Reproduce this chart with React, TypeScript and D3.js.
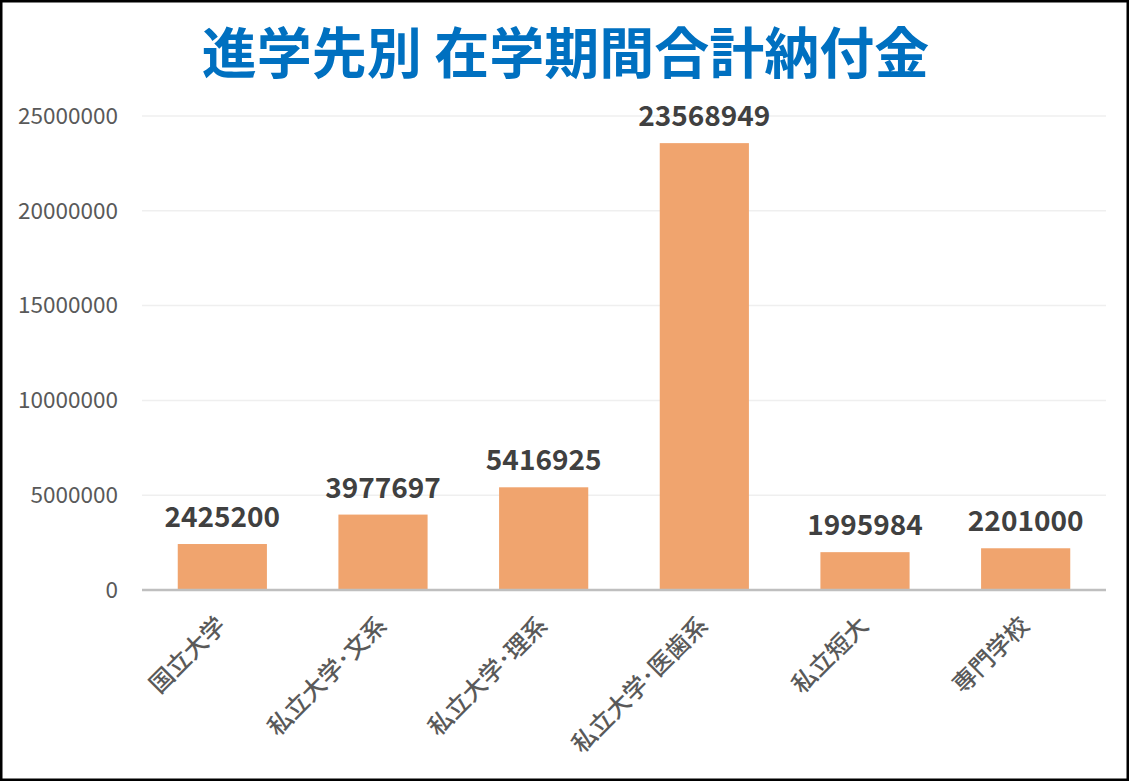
import { useEffect } from "react";
import * as d3 from "d3";

const W = 1131;
const H = 783;
const MARGIN = { top: 116, right: 25, bottom: 193, left: 142 };

const TITLE = "進学先別 在学期間合計納付金";
const categories = ["国立大学", "私立大学･文系", "私立大学･理系", "私立大学･医歯系", "私立短大", "専門学校"];
const values = [2425200, 3977697, 5416925, 23568949, 1995984, 2201000];
const yTicks = [0, 5000000, 10000000, 15000000, 20000000, 25000000];

const FONT = "'Noto Sans CJK JP', 'Noto Sans', sans-serif";

export default function App() {
  useEffect(() => {
    document.body.style.margin = "0";
  }, []);

  const innerW = W - MARGIN.left - MARGIN.right;
  const innerH = H - MARGIN.top - MARGIN.bottom;

  const x = d3.scaleBand<string>().domain(categories).range([0, innerW]).paddingInner(0.445).paddingOuter(0.2225);
  const y = d3.scaleLinear().domain([0, 25000000]).range([innerH, 0]);

  return (
    <svg width={W} height={H} style={{ display: "block", background: "#fff" }}>
      <rect x={1.25} y={1.25} width={W - 4.5} height={H - 4.5} fill="#fff" stroke="#000" strokeWidth={2.5} />
      {/* title */}
      <text x={W / 2} y={73} fontSize={55} fontWeight={700} fill="#0070C0" textAnchor="middle" fontFamily={FONT}>
        {TITLE}
      </text>
      <g transform={`translate(${MARGIN.left},${MARGIN.top})`}>
        {/* gridlines + y labels */}
        {yTicks.map((t) => (
          <g key={t} transform={`translate(0,${y(t)})`}>
            {t > 0 && <line x1={0} x2={innerW} stroke="#EFEFEF" strokeWidth={1.5} />}
            <text x={-24} dy="0.35em" fontSize={22.5} fill="#595959" textAnchor="end" fontFamily={FONT}>
              {t}
            </text>
          </g>
        ))}
        {/* bars */}
        {categories.map((c, i) => (
          <rect
            key={c}
            x={x(c)}
            y={y(values[i])}
            width={x.bandwidth()}
            height={innerH - y(values[i])}
            fill="#F0A46E"
          />
        ))}
        {/* axis line */}
        <line x1={0} x2={innerW} y1={innerH} y2={innerH} stroke="#BFBFBF" strokeWidth={2.5} />
        {/* value labels */}
        {categories.map((c, i) => (
          <text
            key={`v-${c}`}
            x={(x(c) ?? 0) + x.bandwidth() / 2}
            y={y(values[i]) - 17}
            fontSize={28}
            fontWeight={700}
            fill="#404040"
            textAnchor="middle"
            fontFamily={FONT}
          >
            {values[i]}
          </text>
        ))}
        {/* x labels */}
        {categories.map((c) => (
          <text
            key={`x-${c}`}
            transform={`translate(${(x(c) ?? 0) + x.bandwidth() / 2 - 1},${innerH + 31}) rotate(-45)`}
            dy="0.35em"
            fontSize={24}
            fontWeight={500}
            fill="#595959"
            textAnchor="end"
            fontFamily={FONT}
          >
            {c}
          </text>
        ))}
      </g>
    </svg>
  );
}
